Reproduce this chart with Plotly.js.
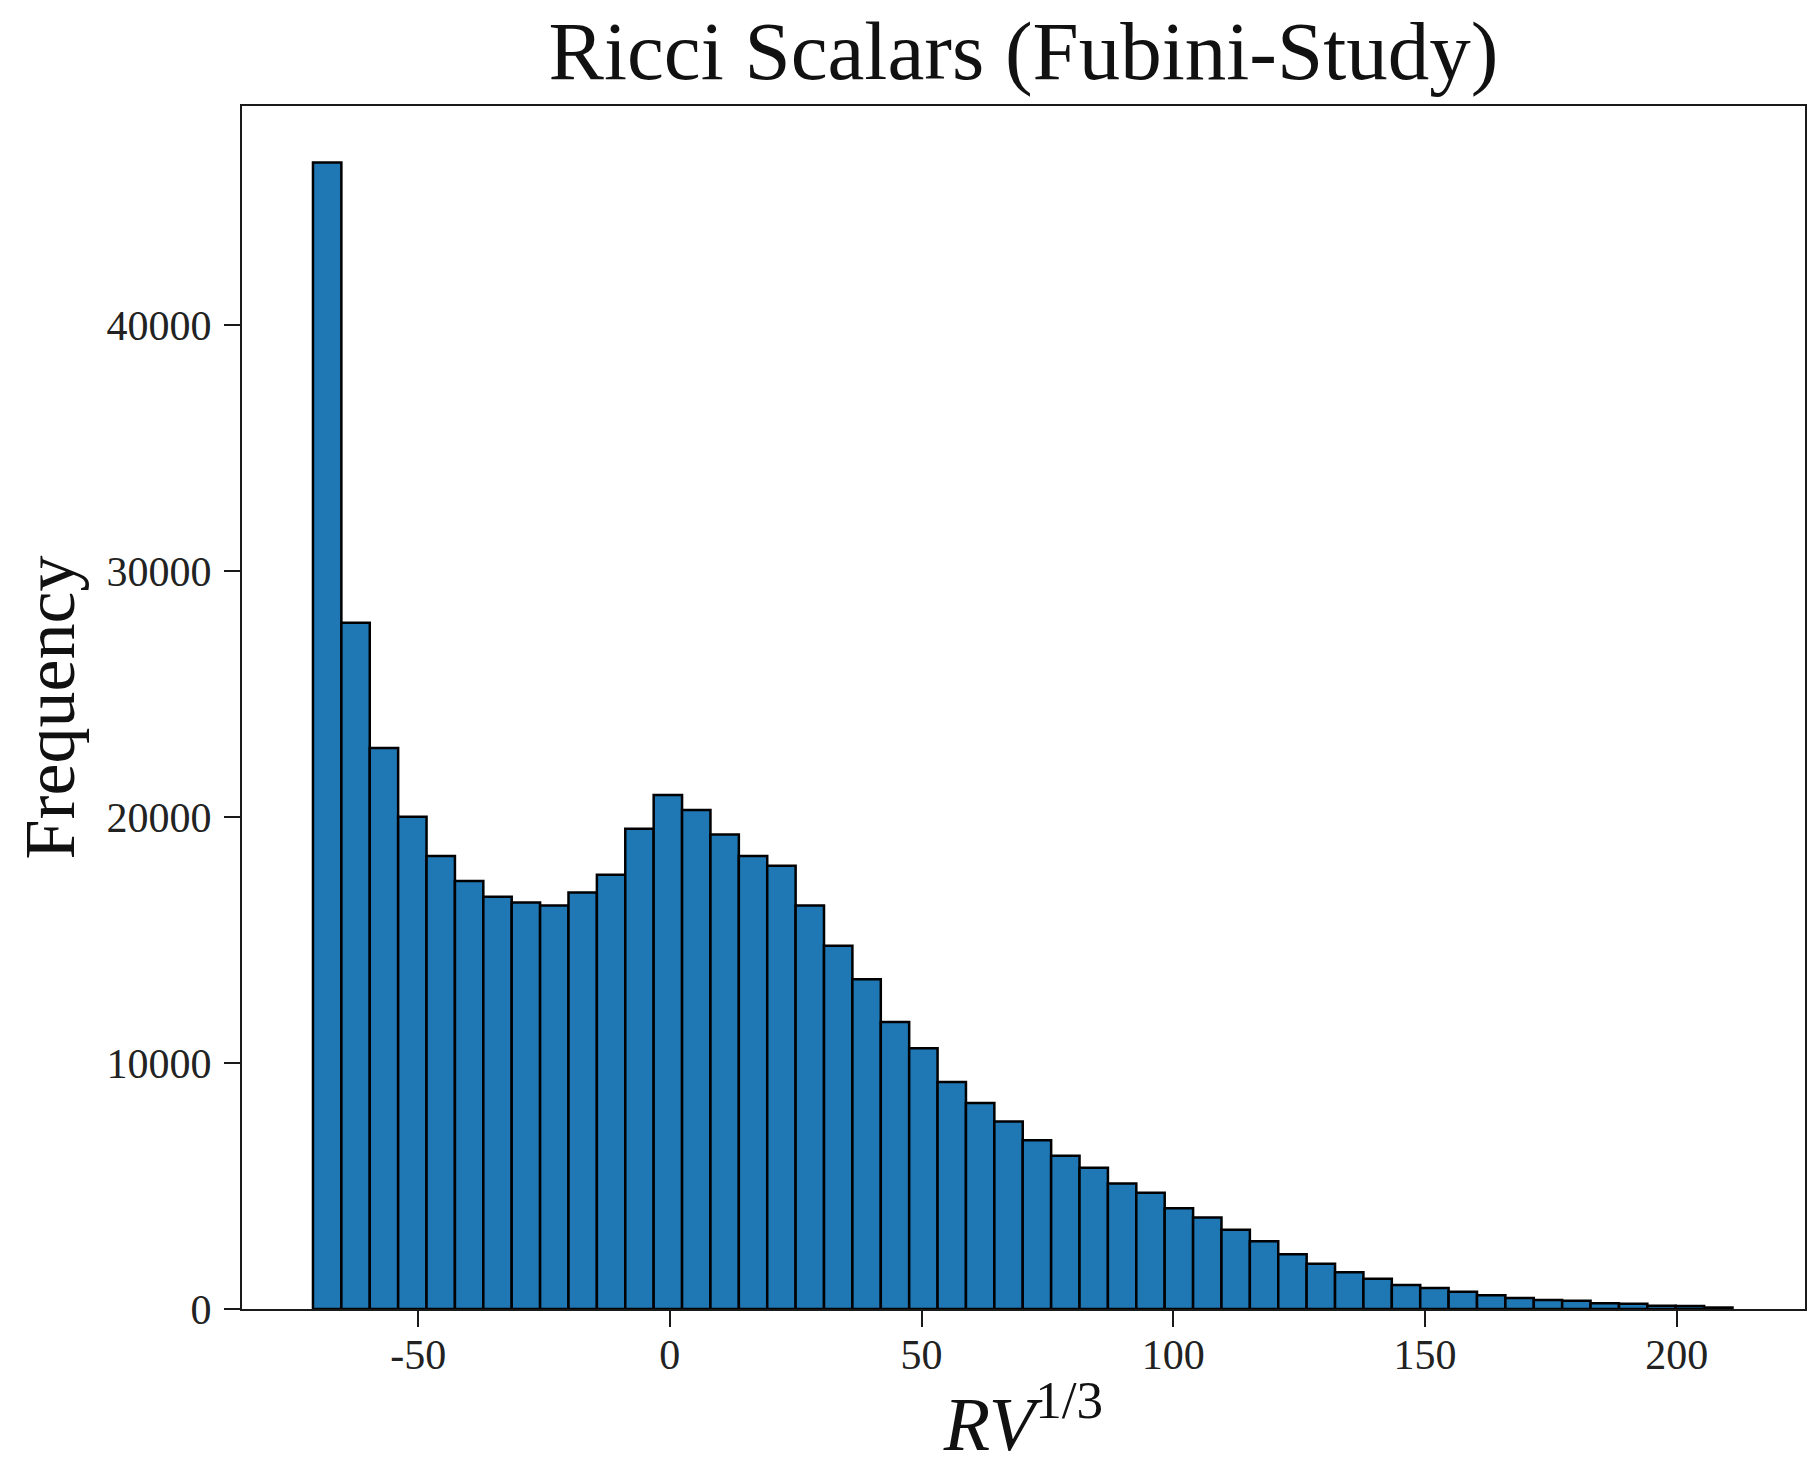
<!DOCTYPE html>
<html>
<head>
<meta charset="utf-8">
<script src="https://cdn.plot.ly/plotly-3.0.1.min.js"></script>
<style>
  html, body { margin: 0; padding: 0; background: #ffffff; }
  #chart { width: 1808px; height: 1466px; }
</style>
</head>
<body>
<div id="chart"></div>
<script>
// Histogram of Ricci scalars: 50 equal bins between the data minimum and maximum
const dataMin = -70.9;
const dataMax = 211.1;
const nBins = 50;

// Counts per bin
const counts = [
  46600, 27900, 22800, 20010, 18410, 17400, 16760, 16520, 16400, 16930,
  17650, 19520, 20890, 20280, 19290, 18410, 18020, 16400, 14770, 13400,
  11670, 10600, 9230, 8370, 7620, 6860, 6230, 5740, 5100, 4730,
  4100, 3720, 3220, 2750, 2230, 1840, 1490, 1230, 975, 850,
  705, 555, 450, 365, 340, 230, 215, 135, 120, 60
];

const xTickVals = [-50, 0, 50, 100, 150, 200];
const xTickText = ["-50", "0", "50", "100", "150", "200"];
const yTickVals = [0, 10000, 20000, 30000, 40000];
const yTickText = ["0", "10000", "20000", "30000", "40000"];

const binWidth = (dataMax - dataMin) / nBins;
const centers = counts.map((_, i) => dataMin + (i + 0.5) * binWidth);

const serif = "Liberation Serif, Times New Roman, serif";

const trace = {
  type: "bar",
  x: centers,
  y: counts,
  width: binWidth,
  marker: { color: "#1f77b4", line: { color: "#000000", width: 2.5 } },
  hoverinfo: "x+y"
};

const axisCommon = {
  showline: true,
  linecolor: "#1a1a1a",
  linewidth: 2,
  mirror: true,
  showgrid: false,
  zeroline: false,
  ticks: "outside",
  ticklen: 16,
  tickwidth: 2,
  tickcolor: "#1a1a1a",
  tickfont: { family: serif, size: 42, color: "#222222" },
  automargin: false
};

const layout = {
  width: 1808,
  height: 1466,
  paper_bgcolor: "#ffffff",
  plot_bgcolor: "#ffffff",
  margin: { l: 242, r: 3, t: 106, b: 157 },
  bargap: 0,
  showlegend: false,
  title: {
    text: "Ricci Scalars (Fubini-Study)",
    font: { family: serif, size: 83, color: "#111111" },
    xref: "paper",
    x: 0.5, xanchor: "center",
    y: 1 - 50 / 1466, yanchor: "middle"
  },
  xaxis: Object.assign({}, axisCommon, {
    range: [-85.0, 225.5],
    tickmode: "array",
    tickvals: xTickVals,
    ticktext: xTickText,
    ticklabelstandoff: -8,
    title: {
      text: "<i>RV</i><sup>1/3</sup>",
      font: { family: serif, size: 76, color: "#111111" },
      standoff: 22
    }
  }),
  yaxis: Object.assign({}, axisCommon, {
    range: [0, 48900],
    tickmode: "array",
    tickvals: yTickVals,
    ticktext: yTickText,
    ticklabelstandoff: 4,
    title: {
      text: "Frequency",
      font: { family: serif, size: 72, color: "#111111" },
      standoff: 8
    }
  })
};

Plotly.newPlot("chart", [trace], layout, { displayModeBar: false, staticPlot: true });
</script>
</body>
</html>
